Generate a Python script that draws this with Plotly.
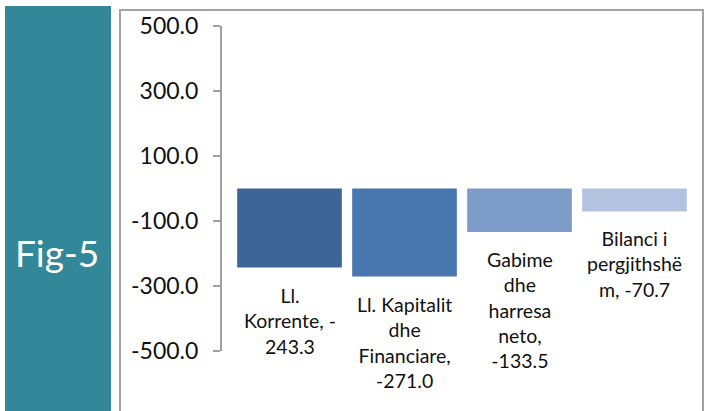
import plotly.graph_objects as go

categories = ["Ll. Korrente", "Ll. Kapitalit dhe Financiare", "Gabime dhe harresa neto", "Bilanci i pergjithshëm"]
values = [-243.3, -271.0, -133.5, -70.7]
labels = [
    "Ll.<br>Korrente, -<br>243.3",
    "Ll. Kapitalit<br>dhe<br>Financiare,<br>-271.0",
    "Gabime<br>dhe<br>harresa<br>neto,<br>-133.5",
    "Bilanci i<br>pergjithshë<br>m, -70.7",
]
colors = ["#3D6597", "#4876AE", "#7E9CC8", "#B3C3DF"]
tick_vals = [-500, -300, -100, 100, 300, 500]
tick_text = ["%.1f" % v for v in tick_vals]

W, H = 708, 411
L, R, T, B = 222, 692, 26, 351


def px(xp):
    return (xp - L) / (R - L)


def py(yp):
    return (B - yp) / (B - T)


fig = go.Figure()
fig.add_trace(go.Bar(
    x=list(range(len(categories))),
    y=values,
    marker=dict(color=colors, line=dict(width=0)),
    width=0.91,
    hovertext=categories,
    showlegend=False,
))

for i, (v, lab) in enumerate(zip(values, labels)):
    fig.add_annotation(
        x=i, y=v, xref="x", yref="y", text=lab, showarrow=False,
        yanchor="top", xanchor="center", yshift=-14,
        font=dict(family="Lato", size=19.5, color="#111111"),
    )

# teal side panel
fig.add_shape(type="rect", xref="paper", yref="paper",
              x0=px(5), x1=px(111), y0=py(6), y1=py(420),
              fillcolor="#328799", line=dict(width=0), layer="below")
fig.add_annotation(xref="paper", yref="paper", x=px(57), y=py(252),
                   text="Fig-5", showarrow=False, xanchor="center", yanchor="middle",
                   font=dict(family="Lato", size=37, color="white"))
# chart border
fig.add_shape(type="rect", xref="paper", yref="paper",
              x0=px(120), x1=px(703), y0=py(10), y1=py(430),
              fillcolor="rgba(0,0,0,0)", line=dict(color="#A3A3A3", width=2), layer="below")

fig.update_layout(
    width=W, height=H,
    margin=dict(l=L, r=W - R, t=T, b=H - B),
    paper_bgcolor="white", plot_bgcolor="white",
    xaxis=dict(visible=False, range=[-0.587, 3.5]),
    yaxis=dict(
        range=[-500, 500], tickvals=tick_vals, ticktext=tick_text,
        showgrid=False, zeroline=False,
        showline=True, linecolor="#A0A0A0", linewidth=2,
        ticks="outside", ticklen=7, tickcolor="#A0A0A0", tickwidth=2,
        ticklabelstandoff=10,
        tickfont=dict(family="Lato", size=23, color="#111111"),
    ),
)

fig.write_html(
    "out.html",
    config={"displayModeBar": False},
    post_script="document.body.style.margin='0';document.body.style.overflow='hidden';",
)
